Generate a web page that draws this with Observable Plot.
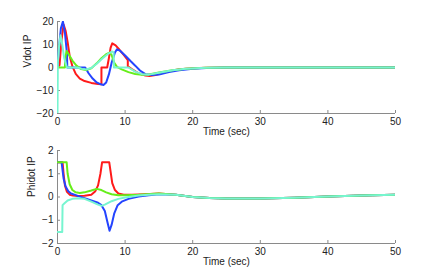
<!DOCTYPE html>
<html><head><meta charset="utf-8">
<script src="https://cdn.jsdelivr.net/npm/d3@7"></script>
<script src="https://cdn.jsdelivr.net/npm/@observablehq/plot@0.6"></script>
<style>body{margin:0;background:#fff} #chart svg{display:block}</style>
</head><body><div id="chart"></div>
<script>
// ---- Data ----
const xTicks = [0, 10, 20, 30, 40, 50];
const yTicksTop = [-20, -10, 0, 10, 20];
const yTicksBottom = [-2, -1, 0, 1, 2];
const seriesNames = ["Run 1", "Run 2", "Run 3", "Run 4"];
const seriesColors = ["#ff1a1a", "#2444ff", "#66ee1a", "#77f5d0"];

// Top panel: Vdot IP
const vRedT = [0, 0.3, 0.6, 0.9, 1.2, 1.5, 1.8, 2.2, 2.7, 3.3, 4, 5, 6, 6.5, 6.5, 7.35, 7.6, 7.85, 8.1, 8.6, 9.2, 9.8, 10.4, 10.4, 11, 12, 13, 13.6, 14.5, 16, 18, 20, 22, 25, 30, 40, 50];
const vRedV = [0, 1, 12, 18.7, 16, 11, 5, 0.5, -2.8, -4.8, -5.9, -6.7, -7.2, -7.3, 0, 0, 4, 8.5, 10.5, 9.6, 7.6, 5.5, 3.2, 0.5, -0.7, -2.5, -3.5, -3.7, -3.3, -2, -0.8, -0.3, -0.1, 0, 0, 0, 0];
const vBlueT = [0, 0.2, 0.5, 0.8, 1.1, 1.4, 1.45, 4.1, 4.6, 5.2, 5.8, 6.4, 6.8, 7.2, 7.6, 8.0, 8.5, 8.8, 9.3, 10, 10.8, 11.5, 12.2, 13, 14, 15, 16.5, 18, 20, 22, 25, 50];
const vBlueV = [0, 8, 17, 20, 15, 6, 0, 0, -2.5, -4.8, -6.5, -7.3, -7.6, -6.5, -3, 2, 6.5, 7.9, 7.2, 5.2, 2.8, 0.8, -1.3, -2.9, -3.3, -3, -2, -1.2, -0.5, -0.2, 0, 0];
const vGreenT = [0, 1.1, 1.15, 1.35, 1.7, 2.2, 2.8, 3.5, 4.2, 5, 5.8, 6.5, 7.2, 7.7, 8.0, 8.4, 8.8, 9.5, 10.5, 11.5, 12.5, 13.5, 15, 17, 19, 22, 25, 50];
const vGreenV = [0, 0, 4, 7.2, 5.5, 3, 0.8, -0.7, -1.1, -0.3, 1.8, 4, 5.8, 6.5, 5.5, 2, 0.3, -0.8, -2, -2.8, -3.2, -3, -2.2, -1.2, -0.5, -0.1, 0, 0];
const vCyanT = [0, 0.05, 0.25, 0.45, 0.7, 1.0, 1.4, 3.0, 3.6, 4.2, 5.0, 5.8, 6.6, 7.4, 8.1, 8.3, 8.35, 10.5, 11.5, 12.5, 13.5, 15, 17, 19, 22, 25, 50];
const vCyanV = [-20, 2, 10, 14, 10, 4, 0, 0, -0.6, -0.9, -0.2, 1.6, 3.8, 5.8, 7, 6.5, 0, 0, -1.8, -2.9, -3.1, -2.3, -1.2, -0.5, -0.1, 0, 0];

// Bottom panel: Phidot IP
const pRedT = [0, 0.75, 0.9, 1.1, 1.4, 1.8, 2.3, 3, 4, 5, 5.6, 6.0, 6.35, 6.6, 7.65, 7.85, 8.1, 8.5, 9, 9.8, 11, 13, 15, 17.5, 20, 22.5, 25, 30, 35, 40, 45, 50];
const pRedV = [1.5, 1.5, 1.0, 0.5, 0.22, 0.1, 0.06, 0.04, 0.05, 0.1, 0.25, 0.5, 1.0, 1.5, 1.5, 1.1, 0.6, 0.3, 0.15, 0.1, 0.1, 0.12, 0.15, 0.1, 0.0, -0.04, -0.06, -0.06, -0.03, 0.02, 0.06, 0.1];
const pBlueT = [0, 0.6, 0.9, 1.2, 1.6, 2, 2.5, 3, 4, 5, 6, 6.5, 7, 7.4, 7.7, 8.0, 8.4, 8.9, 9.5, 10.5, 12, 13.5, 15, 17.5, 20, 22.5, 25, 30, 35, 40, 45, 50];
const pBlueV = [1.5, 1.5, 0.8, 0.45, 0.25, 0.15, 0.1, 0.05, -0.05, -0.15, -0.25, -0.35, -0.6, -1.1, -1.45, -1.2, -0.7, -0.35, -0.2, -0.08, 0.02, 0.08, 0.12, 0.1, 0.0, -0.04, -0.06, -0.06, -0.03, 0.02, 0.06, 0.1];
const pGreenT = [0, 1.35, 1.5, 1.8, 2.2, 2.7, 3.3, 4, 5, 5.8, 6.5, 7.2, 8, 9, 10, 12, 15, 17.5, 20, 22.5, 25, 30, 35, 40, 45, 50];
const pGreenV = [1.5, 1.5, 1.0, 0.55, 0.3, 0.2, 0.17, 0.2, 0.28, 0.35, 0.3, 0.2, 0.12, 0.08, 0.08, 0.1, 0.15, 0.1, 0.0, -0.04, -0.06, -0.06, -0.03, 0.02, 0.06, 0.1];
const pCyanT = [0, 0.7, 0.75, 1.0, 1.5, 2.2, 3, 4, 5, 6, 6.5, 7, 8, 9, 10, 11, 12, 13.5, 15, 17.5, 20, 22.5, 25, 30, 35, 40, 45, 50];
const pCyanV = [-1.5, -1.5, -0.35, -0.28, -0.15, -0.08, -0.05, -0.08, -0.2, -0.33, -0.38, -0.33, -0.18, -0.08, -0.02, 0.02, 0.06, 0.1, 0.12, 0.1, 0.0, -0.04, -0.06, -0.06, -0.03, 0.02, 0.06, 0.1];

function rows(pairs) {
  const out = [];
  pairs.forEach(([name, ts, vs]) => ts.forEach((t, i) => out.push({s: name, t, v: vs[i]})));
  return out;
}
const [s1, s2, s3, s4] = seriesNames;
const topRows = rows([[s1, vRedT, vRedV], [s2, vBlueT, vBlueV], [s3, vGreenT, vGreenV], [s4, vCyanT, vCyanV]]);
const botRows = rows([[s1, pRedT, pRedV], [s2, pBlueT, pBlueV], [s3, pGreenT, pGreenV], [s4, pCyanT, pCyanV]]);

const font = "'Liberation Sans', Arial, Helvetica, sans-serif";
const W = 436, ML = 57, MR = 41;

function panel({height, marginTop, marginBottom, yDomain, yTicks, data, ylabel, ylabelDx}) {
  const fw = W - ML - MR;
  const fh = height - marginTop - marginBottom;
  return Plot.plot({
    width: W, height, marginLeft: ML, marginRight: MR, marginTop, marginBottom,
    style: {fontFamily: font, fontSize: "10px", color: "#222", background: "white", overflow: "visible"},
    x: {domain: [0, 50]},
    y: {domain: yDomain},
    color: {type: "ordinal", domain: seriesNames, range: seriesColors},
    marks: [
      Plot.ruleY([yDomain[0]], {stroke: "#8a8a8a", strokeWidth: 1}),
      Plot.ruleX([0], {stroke: "#8a8a8a", strokeWidth: 1}),
      Plot.tickX(xTicks, {x: d => d, stroke: "#8a8a8a", insetTop: fh - 3}),
      Plot.tickY(yTicks, {y: d => d, stroke: "#8a8a8a", insetRight: fw - 3}),
      Plot.axisX({ticks: xTicks, tickSize: 0, tickPadding: 4, tickFormat: d => String(d).replace("-", "\u2212"), label: null, fill: "#222"}),
      Plot.axisY({ticks: yTicks, tickSize: 0, tickPadding: 4, tickFormat: d => String(d).replace("-", "\u2212"), label: null, fill: "#222"}),
      Plot.text(["Time (sec)"], {frameAnchor: "bottom", lineAnchor: "top", dy: 14, fill: "#222"}),
      Plot.text([ylabel], {frameAnchor: "left", rotate: -90, dx: ylabelDx, lineAnchor: "middle", fill: "#222"}),
      Plot.line(data, {x: "t", y: "v", z: "s", stroke: "s", strokeWidth: 2, clip: true})
    ]
  });
}

const chart = document.getElementById("chart");
chart.append(panel({height: 137, marginTop: 21, marginBottom: 24, yDomain: [-20, 20], yTicks: yTicksTop, data: topRows, ylabel: "Vdot IP", ylabelDx: -30}));
chart.append(panel({height: 136, marginTop: 13, marginBottom: 30, yDomain: [-2, 2], yTicks: yTicksBottom, data: botRows, ylabel: "Phidot IP", ylabelDx: -26}));
</script>
</body></html>
